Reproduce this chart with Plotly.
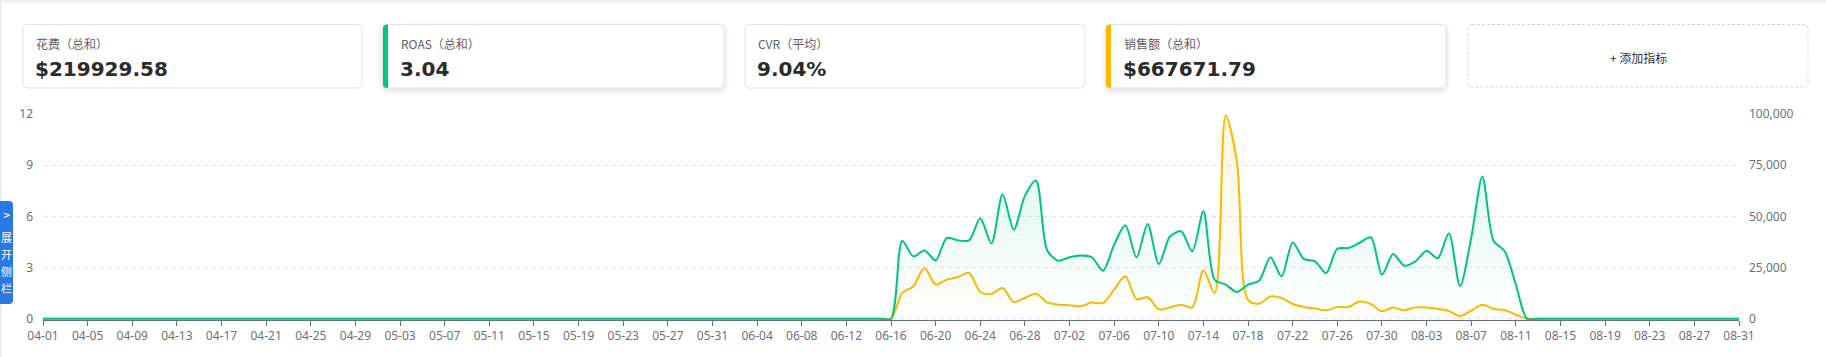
import plotly.graph_objects as go
import pandas as pd

# ---------------- data ----------------
dates = pd.date_range("2024-04-01", "2024-08-31", freq="D")
tick_dates = dates[::4]
tick_labels = [d.strftime("%m-%d") for d in tick_dates]

# daily values from 06-16 to 08-12 (before/after: zero)
lead_zeros = 76
trail_zeros = 19
roas_active = [0, 4.57, 3.65, 4.0, 3.42, 4.73, 4.59, 4.59, 5.88, 4.41,
               7.29, 5.21, 7.2, 8.1, 4.0, 3.4, 3.6, 3.7, 3.6, 2.81,
               4.34, 5.47, 3.6, 5.55, 3.2, 4.82, 5.12, 3.95, 6.3, 2.29,
               2.0, 1.56, 2.0, 2.23, 3.6, 2.48, 4.47, 3.5, 3.36, 2.68,
               4.1, 4.14, 4.45, 4.77, 2.58, 3.79, 3.1, 3.36, 3.98, 3.54,
               5.0, 1.9, 4.73, 8.34, 4.57, 3.95, 2.0, 0]
sales_active = [0, 12500, 15830, 24750, 16670, 19080, 20330, 22330, 13000, 12080,
                15000, 8170, 10080, 12170, 7920, 6830, 6500, 6000, 7830, 7670,
                14170, 20670, 9580, 10420, 4580, 5500, 6830, 5500, 23580, 12500,
                99300, 76500, 9170, 7330, 10830, 10080, 7170, 5670, 5000, 4080,
                5670, 5670, 8330, 7170, 3580, 5500, 4080, 5500, 5500, 4750,
                3750, 1170, 3920, 6830, 4750, 4250, 1920, 0]
roas = [0] * lead_zeros + roas_active + [0] * trail_zeros
sales = [0] * lead_zeros + sales_active + [0] * trail_zeros

roas_ticks = [0, 3, 6, 9, 12]
sales_ticks = [0, 25000, 50000, 75000, 100000]

cards = [
    {"label": "花费（总和）", "value": "$219929.58", "stripe": None},
    {"label": "ROAS（总和）", "value": "3.04", "stripe": "#00c57c"},
    {"label": "CVR（平均）", "value": "9.04%", "stripe": None},
    {"label": "销售额（总和）", "value": "$667671.79", "stripe": "#ffb800"},
]
add_label = "+ 添加指标"
tab_chars = ["展", "开", "侧", "栏"]

GREEN = "#00c57c"
ORANGE = "#ffb800"
AXIS = "#6e7079"
GRID = "#e0e6f1"

# ---------------- geometry helpers ----------------
W, H = 1826, 357
L, R, T, B = 43, 87, 114, 37
PW, PH = W - L - R, H - T - B


def px(x):
    return (x - L) / PW


def py(y):
    return (H - B - y) / PH


def rr_path(x0, y0, x1, y1, r):
    X0, X1 = px(x0), px(x1)
    Y0, Y1 = py(y0), py(y1)
    rx, ry = r / PW, r / PH
    return (f"M {X0+rx},{Y0} L {X1-rx},{Y0} Q {X1},{Y0} {X1},{Y0-ry} "
            f"L {X1},{Y1+ry} Q {X1},{Y1} {X1-rx},{Y1} L {X0+rx},{Y1} "
            f"Q {X0},{Y1} {X0},{Y1+ry} L {X0},{Y0-ry} Q {X0},{Y0} {X0+rx},{Y0} Z")


def left_stripe_path(x0, y0, x1, y1, r):
    X0, X1 = px(x0), px(x1)
    Y0, Y1 = py(y0), py(y1)
    rx, ry = r / PW, r / PH
    return (f"M {X0+rx},{Y0} L {X1},{Y0} L {X1},{Y1} L {X0+rx},{Y1} "
            f"Q {X0},{Y1} {X0},{Y1+ry} L {X0},{Y0-ry} Q {X0},{Y0} {X0+rx},{Y0} Z")


def right_round_path(x0, y0, x1, y1, r):
    X0, X1 = px(x0), px(x1)
    Y0, Y1 = py(y0), py(y1)
    rx, ry = r / PW, r / PH
    return (f"M {X0},{Y0} L {X1-rx},{Y0} Q {X1},{Y0} {X1},{Y0-ry} "
            f"L {X1},{Y1+ry} Q {X1},{Y1} {X1-rx},{Y1} L {X0},{Y1} Z")


# ---------------- figure ----------------
fig = go.Figure()

fig.add_trace(go.Scatter(
    x=dates, y=sales, yaxis="y", mode="lines",
    line=dict(color=ORANGE, width=2, shape="spline", smoothing=0.9),
    fill="tozeroy",
    fillgradient=dict(type="vertical", start=0, stop=100000,
                      colorscale=[[0, "rgba(255,184,0,0.0)"], [1, "rgba(255,184,0,0.12)"]]),
    hoverinfo="skip", showlegend=False,
))
fig.add_trace(go.Scatter(
    x=dates, y=roas, yaxis="y2", mode="lines",
    line=dict(color=GREEN, width=2, shape="spline", smoothing=0.8),
    fill="tozeroy",
    fillgradient=dict(type="vertical", start=0, stop=8.3,
                      colorscale=[[0, "rgba(0,197,124,0.0)"], [1, "rgba(0,197,124,0.11)"]]),
    hoverinfo="skip", showlegend=False,
))

shapes = []
# page edge
shapes.append(dict(type="rect", xref="paper", yref="paper", x0=px(0), x1=px(W), y0=py(0), y1=py(3),
                   fillcolor="#efefef", line=dict(width=0), layer="below"))
shapes.append(dict(type="rect", xref="paper", yref="paper", x0=px(0), x1=px(1.5), y0=py(0), y1=py(H),
                   fillcolor="#eaeaea", line=dict(width=0), layer="below"))

card_x = [(23, 362), (383, 724), (745, 1085), (1106, 1446)]
cy0, cy1 = 24.5, 88
annotations = []
for (x0, x1), c in zip(card_x, cards):
    if c["stripe"]:
        for i, a in enumerate([0.018, 0.025, 0.035]):
            g = 6 - 2 * i
            shapes.append(dict(type="path", xref="paper", yref="paper",
                               path=rr_path(x0 - g + 1, cy0 - g + 4, x1 + g - 1, cy1 + g + 1, 6 + g),
                               fillcolor=f"rgba(0,0,0,{a})", line=dict(width=0), layer="below"))
    shapes.append(dict(type="path", xref="paper", yref="paper", path=rr_path(x0, cy0, x1, cy1, 4),
                       fillcolor="white", line=dict(color="#e3e3e3", width=1), layer="below"))
    off = 11
    if c["stripe"]:
        shapes.append(dict(type="path", xref="paper", yref="paper",
                           path=left_stripe_path(x0, cy0, x0 + 5, cy1, 4),
                           fillcolor=c["stripe"], line=dict(width=0), layer="below"))
        off = 16
    annotations.append(dict(xref="paper", yref="paper", x=px(x0 + off), y=py(44), text=c["label"],
                            showarrow=False, xanchor="left", yanchor="middle",
                            font=dict(family="Noto Sans CJK SC, Noto Sans", size=12, color="#606060")))
    annotations.append(dict(xref="paper", yref="paper", x=px(x0 + off - 1), y=py(68.5), text=c["value"],
                            showarrow=False, xanchor="left", yanchor="middle",
                            font=dict(family="DejaVu Sans", size=20, color="#2b2b2b", weight="bold")))

# add-metric card
shapes.append(dict(type="path", xref="paper", yref="paper", path=rr_path(1468, cy0, 1808, 87, 4),
                   fillcolor="white", line=dict(color="#d6d6d6", width=1, dash="3px,2px"), layer="below"))
annotations.append(dict(xref="paper", yref="paper", x=px(1638), y=py(58), text=add_label,
                        showarrow=False, xanchor="center", yanchor="middle",
                        font=dict(family="Noto Sans CJK SC, Noto Sans", size=12, color="#333333")))

# side tab
shapes.append(dict(type="path", xref="paper", yref="paper", path=right_round_path(0, 201, 13, 304, 4),
                   fillcolor="#2a78e4", line=dict(width=0), layer="above"))
annotations.append(dict(xref="paper", yref="paper", x=px(6.5), y=py(215), text="<b>&gt;</b>",
                        showarrow=False, xanchor="center", yanchor="middle",
                        font=dict(family="DejaVu Sans", size=9, color="white")))
for ch, yy in zip(tab_chars, [237, 254, 271, 288]):
    annotations.append(dict(xref="paper", yref="paper", x=px(6.5), y=py(yy), text=ch,
                            showarrow=False, xanchor="center", yanchor="middle",
                            font=dict(family="Noto Sans CJK SC", size=11, color="white")))

fig.update_layout(
    width=W, height=H,
    margin=dict(l=L, r=R, t=T, b=B, pad=0, autoexpand=False),
    paper_bgcolor="white", plot_bgcolor="rgba(0,0,0,0)",
    showlegend=False,
    shapes=shapes, annotations=annotations,
    xaxis=dict(type="date", range=[dates[0], dates[-1]],
               tickmode="array", tickvals=list(tick_dates), ticktext=tick_labels,
               showline=True, linecolor=AXIS, linewidth=1,
               ticks="outside", ticklen=5, tickcolor=AXIS, tickwidth=1,
               showgrid=False, zeroline=False,
               tickfont=dict(family="Noto Sans", size=12, color=AXIS)),
    yaxis=dict(side="right", range=[-0.08 * 100000 / 12, 100000],
               tickmode="array", tickvals=sales_ticks, tickformat=",d",
               showgrid=True, gridcolor=GRID, griddash="5px,3px", gridwidth=1,
               zeroline=False, showline=False, ticks="", ticklabelstandoff=9,
               tickfont=dict(family="Noto Sans", size=12, color=AXIS)),
    yaxis2=dict(side="left", overlaying="y", range=[-0.08, 12],
                tickmode="array", tickvals=roas_ticks,
                showgrid=False, zeroline=False, showline=False, ticks="", ticklabelstandoff=9,
                tickfont=dict(family="Noto Sans", size=12, color=AXIS)),
)

fig.write_html(
    "out.html",
    config={"displayModeBar": False},
    post_script="document.body.style.margin='0';document.body.style.padding='0';"
                "document.documentElement.style.overflow='hidden';",
)
